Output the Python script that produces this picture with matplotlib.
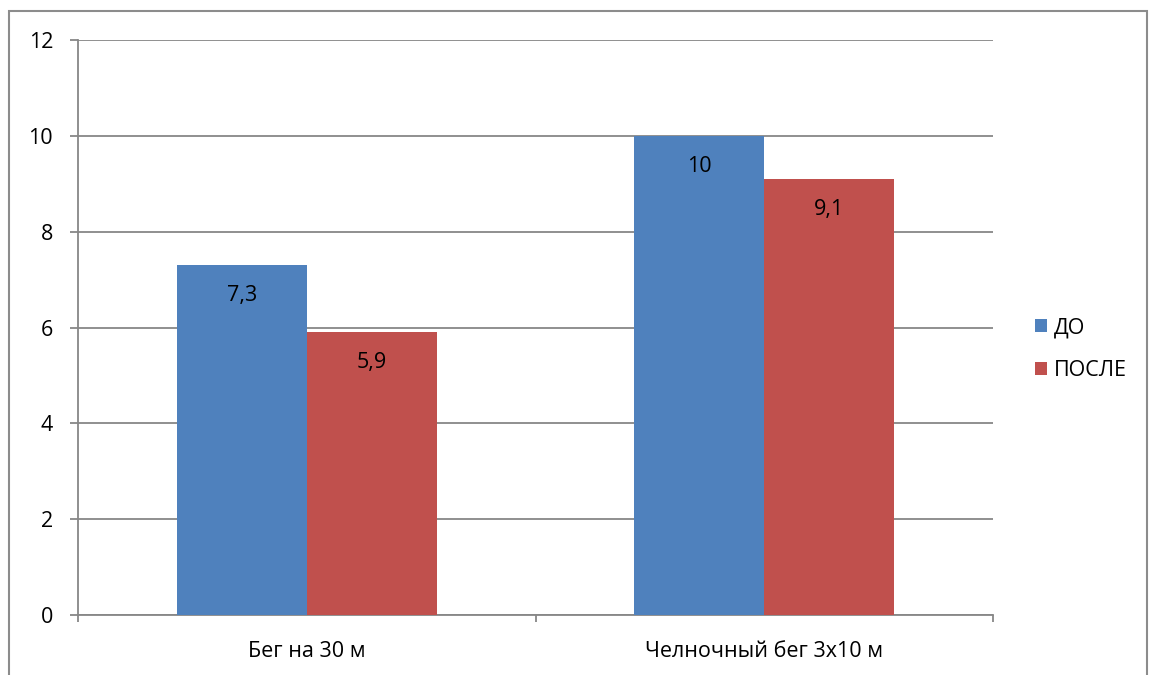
import numpy as np
import matplotlib
matplotlib.use('Agg')
import matplotlib.pyplot as plt
from matplotlib.patches import Rectangle

plt.rcParams['font.family'] = ['Open Sans', 'DejaVu Sans']

categories = ['Бег на 30 м', 'Челночный бег 3x10 м']
series_names = ['ДО', 'ПОСЛЕ']
before = [7.3, 10]
after = [5.9, 9.1]
value_labels_before = ['7,3', '10']
value_labels_after = ['5,9', '9,1']
yticks = [0, 2, 4, 6, 8, 10, 12]

blue = '#4F81BD'
red = '#C0504D'
grid_col = '#878787'
fs = 15.5

fig = plt.figure(figsize=(11.5, 6.75), dpi=100)
ax = fig.add_axes([78/1150, 1-615/675, (993-78)/1150, (615-40)/675])

x = np.arange(len(categories))
w = 0.284
b1 = ax.bar(x - w/2, before, w, color=blue, label=series_names[0], zorder=3)
b2 = ax.bar(x + w/2, after, w, color=red, label=series_names[1], zorder=3)

# value labels sit just inside the top of each bar
for rect, txt in zip(b1, value_labels_before):
    ax.annotate(txt, (rect.get_x() + rect.get_width()/2, rect.get_height()),
                xytext=(0, -22), textcoords='offset points',
                ha='center', va='center', fontsize=fs, zorder=4)
for rect, txt in zip(b2, value_labels_after):
    ax.annotate(txt, (rect.get_x() + rect.get_width()/2, rect.get_height()),
                xytext=(0, -22), textcoords='offset points',
                ha='center', va='center', fontsize=fs, zorder=4)

ax.set_xlim(-0.5, 1.5)
ax.set_ylim(0, 12)
ax.set_yticks(yticks)
ax.set_yticklabels([str(v) for v in yticks], fontsize=fs)
ax.yaxis.grid(True, color=grid_col, lw=1.3, zorder=0)

# category boundaries carry the x tick marks, labels go in the middle
ax.set_xticks([-0.5, 0.5, 1.5])
ax.set_xticklabels([])
ax.set_xticks(x, minor=True)
ax.set_xticklabels(categories, minor=True, fontsize=fs)
ax.tick_params(axis='x', which='minor', length=0, pad=19)
ax.tick_params(axis='x', which='major', length=5, width=1.3, color=grid_col)
ax.tick_params(axis='y', length=6, width=1.3, color=grid_col, pad=12)

for s in ['top', 'right']:
    ax.spines[s].set_visible(False)
for s in ['left', 'bottom']:
    ax.spines[s].set_color(grid_col)
    ax.spines[s].set_linewidth(1.3)

leg = fig.legend(handles=[b1, b2], labels=series_names, loc='upper left',
                 bbox_to_anchor=(1016/1150, 1-298/675), frameon=False,
                 fontsize=fs, handlelength=0.55, handleheight=0.55,
                 handletextpad=0.3, labelspacing=1.0)

# outer chart frame
fig.patches.append(Rectangle((9/1150, -0.05), (1147-9)/1150, 1.05 - 11/675,
                             transform=fig.transFigure, fill=False,
                             edgecolor='#8c8c8c', lw=1.5))

fig.savefig('out.png', dpi=100)
